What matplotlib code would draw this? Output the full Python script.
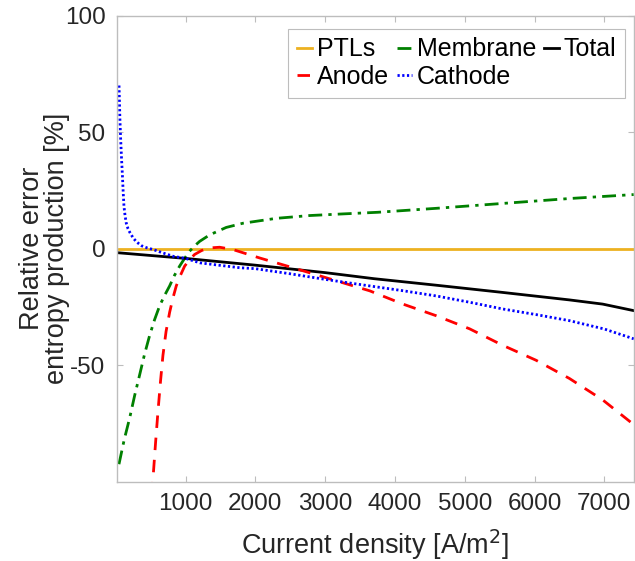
import numpy as np
import matplotlib
matplotlib.use("Agg")
import matplotlib.pyplot as plt

plt.rcParams['font.family'] = ['Liberation Sans', 'DejaVu Sans']
plt.rcParams['axes.unicode_minus'] = False

# Current density [A/m^2] and relative error in entropy production [%]
ptl_x = [50, 7420]
ptl_y = [0.0, 0.0]

membrane_x = [45, 120, 198, 270, 341, 410, 484, 555, 628, 700, 771, 840, 914, 985, 1057,
              1130, 1200, 1344, 1582, 1821, 2298, 2776, 3253, 3754, 4591, 5544, 6498, 7420]
membrane_y = [-92.5, -82.0, -72.7, -63.0, -54.2, -45.5, -37.3, -30.5, -24.5, -20.0, -16.0,
              -11.5, -7.5, -4.2, -1.1, 1.2, 3.1, 5.9, 9.1, 10.9, 13.0, 14.2, 14.9, 15.6,
              17.3, 19.4, 21.5, 23.2]

total_x = [45, 1000, 2000, 3000, 3700, 4591, 5544, 6498, 6975, 7420]
total_y = [-1.8, -4.2, -7.1, -10.3, -12.9, -15.7, -18.8, -22.0, -23.8, -26.6]

anode_x = [500, 532, 570, 604, 640, 675, 720, 771, 820, 866, 925, 986, 1060, 1129, 1230,
           1344, 1487, 1678, 2060, 2537, 3014, 3637, 4114, 4591, 5068, 5544, 6021, 6498,
           6975, 7420]
anode_y = [-115.0, -98.9, -83.0, -69.8, -57.0, -45.8, -35.5, -27.3, -21.0, -16.0, -11.5,
           -7.5, -4.6, -2.5, -0.8, 0.3, 0.6, -0.4, -4.0, -8.2, -12.5, -18.1, -23.8, -28.8,
           -34.4, -41.5, -47.9, -55.7, -64.9, -75.5]

cathode_x = [46, 58, 70, 82, 93, 105, 117, 133, 150, 175, 200, 250, 300, 371, 450, 537,
             680, 823, 1000, 1205, 1500, 1777, 2000, 2500, 3000, 3637, 4100, 4591, 5068,
             5544, 6021, 6498, 7000, 7420]
cathode_y = [70.0, 56.0, 46.5, 38.5, 32.3, 24.5, 18.0, 14.0, 10.9, 8.5, 7.0, 4.5, 2.8,
             1.2, 0.3, -0.4, -1.9, -3.3, -4.2, -6.1, -7.2, -8.2, -8.6, -10.8, -13.2,
             -16.0, -18.0, -20.3, -23.0, -25.9, -28.3, -30.9, -34.5, -38.7]

x_ticks = [1000, 2000, 3000, 4000, 5000, 6000, 7000]
y_ticks = [-50, 0, 50, 100]

fig = plt.figure(figsize=(6.35, 5.61), dpi=100)
ax = fig.add_axes([0.1835, 0.1414, 0.8145, 0.8308])

lw = 2.0
h_ptl, = ax.plot(ptl_x, ptl_y, color='#EDB120', lw=lw, label='PTLs')
h_mem, = ax.plot(membrane_x, membrane_y, color='#008000', lw=lw,
                 linestyle=(0, (5, 2.2, 1.2, 2.2)), label='Membrane')
h_tot, = ax.plot(total_x, total_y, color='black', lw=lw, label='Total')
h_an, = ax.plot(anode_x, anode_y, color='#FF0000', lw=lw,
                linestyle=(0, (4.5, 3.5)), label='Anode')
h_cat, = ax.plot(cathode_x, cathode_y, color='#0000FF', lw=lw,
                 linestyle=(0, (0.8, 0.9)), label='Cathode')

ax.set_xlim(10, 7420)
ax.set_ylim(-100, 100)
ax.set_xticks(x_ticks)
ax.set_yticks(y_ticks)

for s in ax.spines.values():
    s.set_color('#BDBDBD')
    s.set_linewidth(1.0)
ax.tick_params(direction='in', length=4, width=0.8, color='#BDBDBD',
               labelsize=17.5, labelcolor='#262626', top=True, right=True, pad=8)

ax.set_xlabel('Current density [A/m$^2$]', fontsize=19.5, color='#262626', labelpad=9)
ax.set_ylabel('Relative error\nentropy production [%]', fontsize=19.5,
              color='#262626', linespacing=0.95)
ax.yaxis.set_label_coords(-0.09, 0.5)

leg = ax.legend([h_ptl, h_an, h_mem, h_cat, h_tot],
                ['PTLs', 'Anode', 'Membrane', 'Cathode', 'Total'],
                ncol=3, loc='upper right', bbox_to_anchor=(0.983, 0.972),
                fontsize=18, handlelength=0.6, handletextpad=0.2,
                columnspacing=0.3, labelspacing=0.15, borderpad=0.35,
                fancybox=False, framealpha=1.0, borderaxespad=0)
leg.get_frame().set_edgecolor('#BDBDBD')
leg.get_frame().set_linewidth(0.8)

fig.savefig('out.png', dpi=100)
